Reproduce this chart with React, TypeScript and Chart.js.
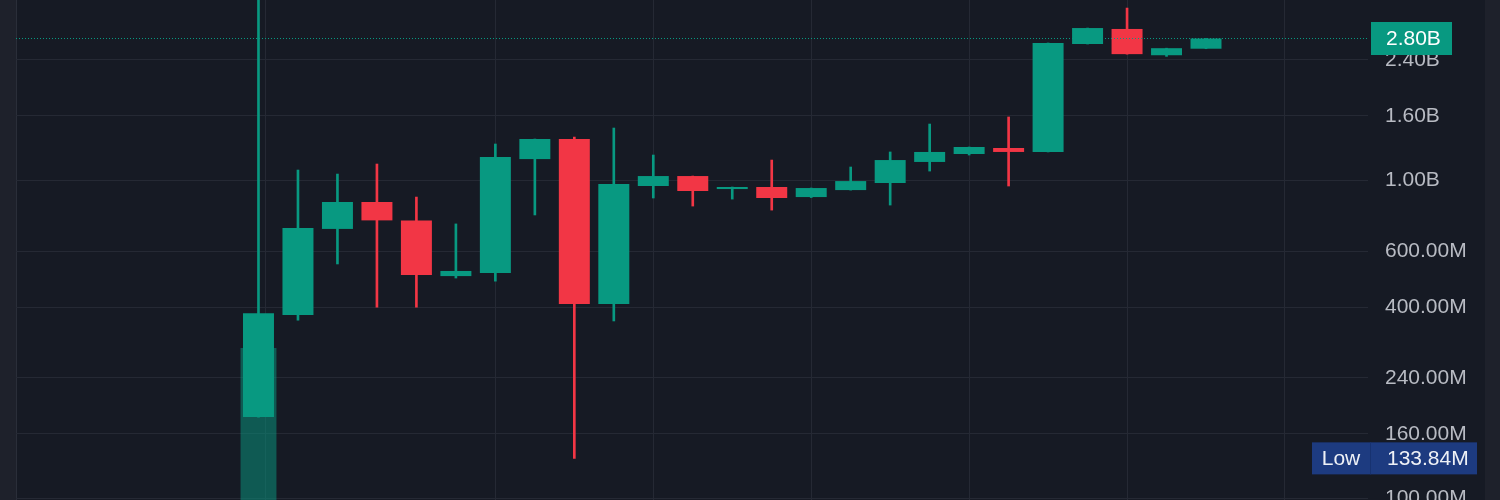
import React, { useEffect, useRef } from "react";
import { Chart, registerables } from "chart.js";

Chart.register(...registerables);

// ---- data ----
const candleIndex = [0, 1, 2, 3, 4, 5, 6, 7, 8, 9, 10, 11, 12, 13, 14, 15, 16, 17, 18, 19, 20, 21, 22, 23, 24];
const opens = [180.5e6, 378e6, 705e6, 857e6, 750e6, 501e6, 512e6, 1.169e9, 1.352e9, 409e6, 962e6, 1.034e9, 941e6, 955e6, 888e6, 934e6, 983e6, 1.145e9, 1.213e9, 1.267e9, 1.231e9, 2.69e9, 3.0e9, 2.48e9, 2.6e9];
const highs = [4.2e9, 1.08e9, 1.049e9, 1.128e9, 888e6, 731e6, 1.304e9, 1.352e9, 1.372e9, 1.464e9, 1.204e9, 1.034e9, 955e6, 1.161e9, 948e6, 1.104e9, 1.231e9, 1.507e9, 1.276e9, 1.586e9, 2.71e9, 3.02e9, 3.49e9, 2.61e9, 2.8e9];
const lows = [180.5e6, 364e6, 547e6, 400e6, 400e6, 494e6, 483e6, 780e6, 133.84e6, 362e6, 882e6, 832e6, 875e6, 808e6, 885e6, 934e6, 838e6, 1.072e9, 1.204e9, 962e6, 1.231e9, 2.69e9, 2.5e9, 2.46e9, 2.6e9];
const closes = [383e6, 710e6, 857e6, 750e6, 505e6, 520e6, 1.187e9, 1.352e9, 409e6, 976e6, 1.034e9, 928e6, 955e6, 882e6, 948e6, 997e6, 1.161e9, 1.231e9, 1.276e9, 1.231e9, 2.71e9, 3.02e9, 2.5e9, 2.61e9, 2.8e9];
// volume overlay, in % of pane height (only the first bar is visible)
const volumes = [30.4, null, null, null, null, null, null, null, null, null, null, null, null, null, null, null, null, null, null, null, null, null, null, null, null];

const yTickValues = [100e6, 160e6, 240e6, 400e6, 600e6, 1e9, 1.6e9, 2.4e9];
const xGridValues = [0.18, 6, 10, 14, 18, 22, 26];
const lastPrice = 2.8e9;
const lowValue = 133.84e6;
const lowText = "Low";

// ---- styling ----
const GREEN = "#089981";
const RED = "#f23645";
const BG = "#161a24";
const SIDE = "#1e212b";
const GRID = "#252934";
const LABEL = "#b8bbc3";
const FONT = "Liberation Sans";

const fmt = (v: number) =>
  v >= 1e9 ? (v / 1e9).toFixed(2) + "B" : (v / 1e6).toFixed(2) + "M";

const decorPlugin = {
  id: "decor",
  beforeDraw(chart: any) {
    const { ctx, width, height, chartArea } = chart;
    const yScale = chart.scales.y;
    ctx.save();
    ctx.fillStyle = SIDE;
    ctx.fillRect(0, 0, width, height);
    ctx.fillStyle = BG;
    ctx.fillRect(chartArea.left, 0, yScale.right - chartArea.left, height);
    ctx.fillStyle = "#2a2e39";
    ctx.fillRect(chartArea.left, 0, 1, height);
    ctx.restore();
  },
  afterDraw(chart: any) {
    const { ctx, chartArea } = chart;
    const yScale = chart.scales.y;
    ctx.save();
    // last price dotted line
    const yp = Math.round(yScale.getPixelForValue(lastPrice)) + 0.5;
    ctx.strokeStyle = GREEN;
    ctx.lineWidth = 1;
    ctx.setLineDash([1, 2]);
    ctx.beginPath();
    ctx.moveTo(chartArea.left, yp);
    ctx.lineTo(chartArea.right, yp);
    ctx.stroke();
    ctx.setLineDash([]);
    // last price badge
    ctx.fillStyle = GREEN;
    ctx.fillRect(yScale.left + 3, yp - 16.5, 81, 33);
    ctx.fillStyle = "#ffffff";
    ctx.font = `21px "${FONT}"`;
    ctx.textBaseline = "middle";
    ctx.textAlign = "left";
    ctx.fillText(fmt(lastPrice), yScale.left + 18, yp + 1);
    // low badge
    const yl = yScale.getPixelForValue(lowValue);
    ctx.fillStyle = "#1d3b80";
    ctx.fillRect(chartArea.right - 56, yl - 16, 165, 32);
    ctx.fillStyle = "#173270";
    ctx.fillRect(chartArea.right + 2, yl - 16, 1, 32);
    ctx.fillStyle = "#eef1f6";
    ctx.textAlign = "center";
    ctx.fillText(lowText, chartArea.right - 27, yl + 1);
    ctx.textAlign = "left";
    ctx.fillText(fmt(lowValue), yScale.left + 19, yl + 1);
    ctx.restore();
  },
};

export default function App() {
  const ref = useRef<HTMLCanvasElement | null>(null);

  useEffect(() => {
    if (!ref.current) return;
    const colors = candleIndex.map((i) => (closes[i] >= opens[i] ? GREEN : RED));
    const chart = new Chart(ref.current, {
      type: "bar",
      data: {
        datasets: [
          {
            label: "body",
            data: candleIndex.map((i) => ({ x: i, y: [opens[i], closes[i]] })) as any,
            backgroundColor: colors,
            grouped: false,
            categoryPercentage: 1,
            barPercentage: 0.785,
            yAxisID: "y",
            order: 0,
          },
          {
            label: "wick",
            data: candleIndex.map((i) => ({ x: i, y: [lows[i], highs[i]] })) as any,
            backgroundColor: colors,
            grouped: false,
            categoryPercentage: 1,
            barPercentage: 1,
            maxBarThickness: 2,
            yAxisID: "y",
            order: 1,
          },
          {
            label: "volume",
            data: candleIndex.map((i) => ({ x: i, y: volumes[i] })) as any,
            backgroundColor: "rgba(8,153,129,0.5)",
            grouped: false,
            categoryPercentage: 1,
            barPercentage: 0.91,
            yAxisID: "yVol",
            order: 2,
          },
        ],
      },
      options: {
        animation: false,
        responsive: false,
        devicePixelRatio: 1,
        layout: { padding: { left: 16, right: 15, top: 0, bottom: 0 } },
        plugins: { legend: { display: false }, tooltip: { enabled: false } },
        scales: {
          x: {
            type: "linear",
            min: -6.142,
            max: 28.103,
            offset: false,
            grid: { color: GRID, drawTicks: false, offset: false },
            border: { display: false },
            ticks: { display: false },
            afterBuildTicks: (s: any) => {
              s.ticks = xGridValues.map((v) => ({ value: v }));
            },
          },
          y: {
            type: "logarithmic",
            position: "right",
            min: 99e6,
            max: 3.7e9,
            bounds: "data",
            grid: { color: GRID, drawTicks: false },
            border: { display: false },
            ticks: {
              autoSkip: false,
              padding: 17,
              color: LABEL,
              font: { family: FONT, size: 21 },
              callback: (v: any) => fmt(Number(v)),
            },
            afterBuildTicks: (s: any) => {
              s.ticks = yTickValues.map((v) => ({ value: v }));
            },
            afterFit: (s: any) => {
              s.width = 117;
              s.paddingTop = 0;
              s.paddingBottom = 0;
            },
          },
          yVol: {
            type: "linear",
            display: false,
            min: 0,
            max: 100,
          },
        },
      } as any,
      plugins: [decorPlugin],
    });
    return () => chart.destroy();
  }, []);

  return (
    <div style={{ position: "fixed", left: 0, top: 0, width: 1500, height: 500, background: BG }}>
      <canvas ref={ref} width={1500} height={500} style={{ display: "block" }} />
    </div>
  );
}
